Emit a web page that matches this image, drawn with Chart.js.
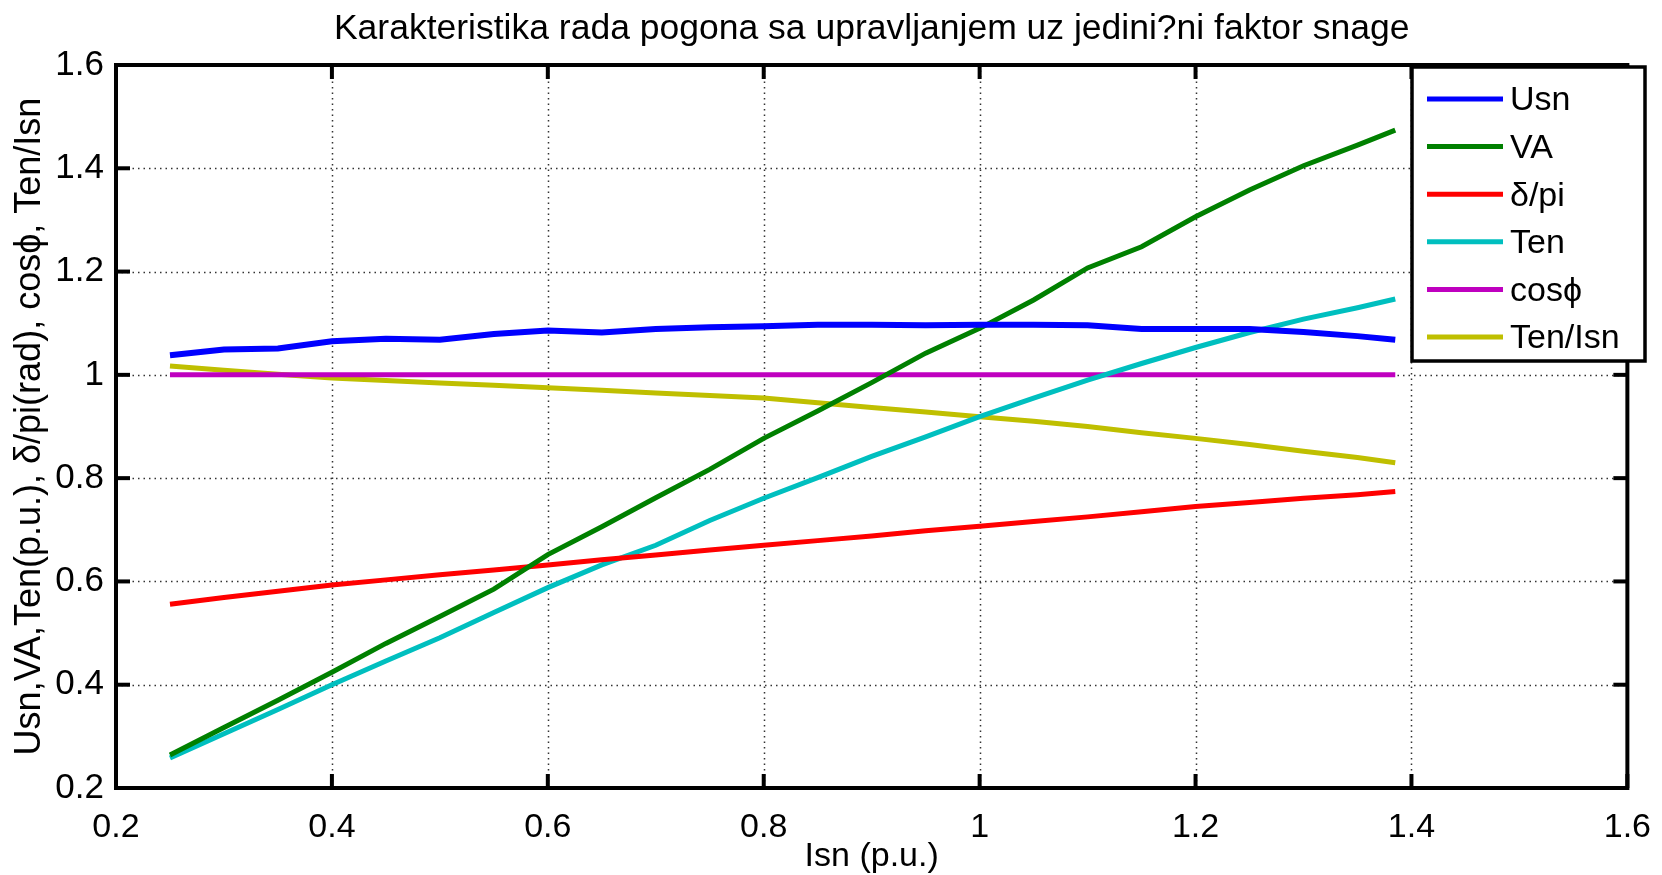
<!DOCTYPE html>
<html>
<head>
<meta charset="utf-8">
<script src="https://cdn.jsdelivr.net/npm/chart.js@4.4.0/dist/chart.umd.min.js"></script>
<style>
  html, body { margin: 0; padding: 0; background: #fff; }
  #wrap { width: 1662px; height: 875px; }
</style>
</head>
<body>
<div id="wrap"><canvas id="chart" width="1662" height="875"></canvas></div>
<script>
// data
const isn = [0.25, 0.3, 0.35, 0.4, 0.45, 0.5, 0.55, 0.6, 0.65, 0.7, 0.75, 0.8,
             0.85, 0.9, 0.95, 1.0, 1.05, 1.1, 1.15, 1.2, 1.25, 1.3, 1.35, 1.385];
const usn   = [1.038, 1.049, 1.051, 1.065, 1.070, 1.068, 1.079, 1.086, 1.082, 1.089, 1.092, 1.094,
               1.097, 1.097, 1.096, 1.097, 1.097, 1.096, 1.089, 1.089, 1.089, 1.083, 1.075, 1.068];
const va    = [0.264, 0.317, 0.370, 0.424, 0.480, 0.532, 0.585, 0.652, 0.706, 0.762, 0.817, 0.877,
               0.930, 0.985, 1.042, 1.090, 1.145, 1.207, 1.248, 1.306, 1.358, 1.405, 1.445, 1.474];
const delta = [0.556, 0.569, 0.581, 0.593, 0.603, 0.613, 0.622, 0.632, 0.642, 0.651, 0.661, 0.670,
               0.679, 0.688, 0.698, 0.707, 0.716, 0.725, 0.735, 0.745, 0.753, 0.761, 0.768, 0.774];
const ten   = [0.258, 0.305, 0.352, 0.400, 0.446, 0.491, 0.540, 0.588, 0.632, 0.670, 0.718, 0.761,
               0.801, 0.842, 0.880, 0.919, 0.955, 0.990, 1.022, 1.053, 1.082, 1.108, 1.130, 1.147];
const cosfi = [1, 1, 1, 1, 1, 1, 1, 1, 1, 1, 1, 1, 1, 1, 1, 1, 1, 1, 1, 1, 1, 1, 1, 1];
const tenIsn = [1.017, 1.009, 1.001, 0.994, 0.989, 0.984, 0.980, 0.975, 0.970, 0.965, 0.960, 0.955,
                0.946, 0.937, 0.928, 0.919, 0.910, 0.900, 0.888, 0.877, 0.865, 0.852, 0.840, 0.830];

const seriesNames = ['Usn', 'VA', 'δ/pi', 'Ten', 'cosϕ', 'Ten/Isn'];
const xTicks = [0.2, 0.4, 0.6, 0.8, 1.0, 1.2, 1.4, 1.6];
const xTickLabels = ['0.2', '0.4', '0.6', '0.8', '1', '1.2', '1.4', '1.6'];
const yTicks = [0.2, 0.4, 0.6, 0.8, 1.0, 1.2, 1.4, 1.6];
const yTickLabels = ['0.2', '0.4', '0.6', '0.8', '1', '1.2', '1.4', '1.6'];
const titleText = 'Karakteristika rada pogona sa upravljanjem uz jedini?ni faktor snage';

const FONT = "'Liberation Sans', Arial, Helvetica, sans-serif";
const colors = ['#0000ff', '#008000', '#ff0000', '#00bfbf', '#bf00bf', '#bfbf00'];
const values = [usn, va, delta, ten, cosfi, tenIsn];

const datasets = values.map((arr, i) => ({
    label: seriesNames[i],
    data: arr.map((v, j) => ({ x: isn[j], y: v })),
    borderColor: colors[i],
    borderWidth: i === 0 ? 6 : 5,
    pointRadius: 0,
    fill: false,
    tension: 0
}));

// MATLAB style box, inward ticks, dotted grid, title and the legend
const matlabAxes = {
    id: 'matlabAxes',
    beforeDatasetsDraw(chart) {
        const { ctx, chartArea: a, scales: { x, y } } = chart;
        ctx.save();
        ctx.strokeStyle = '#333';
        ctx.lineWidth = 1.5;
        ctx.setLineDash([1.5, 4]);
        xTicks.forEach(v => {
            const px = Math.round(x.getPixelForValue(v)) + 0.5;
            ctx.beginPath(); ctx.moveTo(px, a.top); ctx.lineTo(px, a.bottom); ctx.stroke();
        });
        yTicks.forEach(v => {
            const py = Math.round(y.getPixelForValue(v)) + 0.5;
            ctx.beginPath(); ctx.moveTo(a.left, py); ctx.lineTo(a.right, py); ctx.stroke();
        });
        ctx.restore();
    },
    afterDatasetsDraw(chart) {
        const { ctx, chartArea: a, scales: { x, y } } = chart;
        ctx.save();
        ctx.strokeStyle = '#000';
        ctx.lineWidth = 4;
        ctx.setLineDash([]);
        ctx.strokeRect(a.left, a.top, a.right - a.left, a.bottom - a.top);
        const tl = 14;
        xTicks.forEach(v => {
            const px = x.getPixelForValue(v);
            ctx.beginPath(); ctx.moveTo(px, a.bottom); ctx.lineTo(px, a.bottom - tl); ctx.stroke();
            ctx.beginPath(); ctx.moveTo(px, a.top); ctx.lineTo(px, a.top + tl); ctx.stroke();
        });
        yTicks.forEach(v => {
            const py = y.getPixelForValue(v);
            ctx.beginPath(); ctx.moveTo(a.left, py); ctx.lineTo(a.left + tl, py); ctx.stroke();
            ctx.beginPath(); ctx.moveTo(a.right, py); ctx.lineTo(a.right - tl, py); ctx.stroke();
        });

        // title, centred over the axes
        ctx.fillStyle = '#000';
        ctx.font = '35.5px ' + FONT;
        ctx.textAlign = 'center';
        ctx.textBaseline = 'middle';
        ctx.fillText(titleText, (a.left + a.right) / 2, 29);

        // legend box
        const lx = 1412, ly = 67, lw = 233, lh = 294;
        ctx.fillStyle = '#fff';
        ctx.fillRect(lx, ly, lw, lh);
        ctx.lineWidth = 3.5;
        ctx.strokeRect(lx, ly, lw, lh);
        ctx.font = '34px ' + FONT;
        ctx.textAlign = 'left';
        chart.data.datasets.forEach((ds, i) => {
            const cy = 99 + i * 47.6;
            ctx.strokeStyle = ds.borderColor;
            ctx.lineWidth = 5;
            ctx.beginPath(); ctx.moveTo(1427, cy); ctx.lineTo(1503, cy); ctx.stroke();
            ctx.fillStyle = '#000';
            ctx.fillText(ds.label, 1510, cy + 2);
        });
        ctx.restore();
    }
};

new Chart(document.getElementById('chart'), {
    type: 'line',
    data: { datasets: datasets },
    plugins: [matlabAxes],
    options: {
        responsive: false,
        animation: false,
        devicePixelRatio: 1,
        layout: { padding: { left: 0, right: 31, top: 65, bottom: 0 } },
        plugins: {
            legend: { display: false },
            tooltip: { enabled: false },
            title: { display: false }
        },
        scales: {
            x: {
                type: 'linear', min: 0.2, max: 1.6,
                afterBuildTicks: s => { s.ticks = xTicks.map(v => ({ value: v })); },
                afterFit: s => { s.height = 87; },
                grid: { display: false },
                border: { display: false },
                ticks: {
                    callback: (v, i) => xTickLabels[i],
                    color: '#000', font: { family: FONT, size: 34 },
                    padding: 11, maxRotation: 0, autoSkip: false
                },
                title: {
                    display: true, text: 'Isn (p.u.)', color: '#000',
                    font: { family: FONT, size: 34 }, padding: { top: 0, bottom: -2 }
                }
            },
            y: {
                type: 'linear', min: 0.2, max: 1.6,
                afterBuildTicks: s => { s.ticks = yTicks.map(v => ({ value: v })); },
                afterFit: s => { s.width = 116; },
                grid: { display: false },
                border: { display: false },
                ticks: {
                    callback: (v, i) => yTickLabels[i],
                    color: '#000', font: { family: FONT, size: 35 },
                    padding: 4, autoSkip: false
                },
                title: {
                    display: true, text: 'Usn,VA,Ten(p.u.), δ/pi(rad), cosϕ, Ten/Isn', color: '#000',
                    font: { family: FONT, size: 36 }, padding: { top: 8, bottom: 0 }
                }
            }
        }
    }
});
</script>
</body>
</html>
